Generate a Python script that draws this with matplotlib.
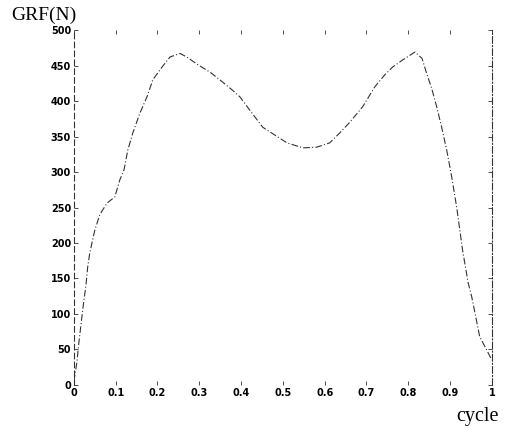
import numpy as np
import matplotlib.pyplot as plt

# values
cycle = [0.0, 0.007, 0.012, 0.022, 0.029, 0.033, 0.038, 0.05, 0.062, 0.079, 0.098,
         0.11, 0.12, 0.129, 0.141, 0.158, 0.175, 0.189, 0.211, 0.23, 0.254, 0.27,
         0.297, 0.325, 0.349, 0.38, 0.397, 0.421, 0.452, 0.481, 0.51, 0.548, 0.581,
         0.612, 0.636, 0.66, 0.691, 0.72, 0.744, 0.763, 0.787, 0.816, 0.833, 0.844,
         0.856, 0.868, 0.88, 0.892, 0.904, 0.916, 0.93, 0.943, 0.952, 0.971, 0.988, 1.0]
grf = [5, 31, 60, 110, 141, 166, 186, 218, 240, 256, 265,
       289, 303, 331, 355, 383, 406, 430, 448, 462, 467, 462,
       451, 441, 430, 415, 406, 387, 363, 352, 341, 334, 335,
       341, 355, 370, 392, 420, 437, 448, 458, 469, 460, 439,
       418, 392, 363, 331, 293, 250, 190, 145, 124, 68, 49, 35]

xticks = [0, 0.1, 0.2, 0.3, 0.4, 0.5, 0.6, 0.7, 0.8, 0.9, 1]
xlabels = ["0", "0.1", "0.2", "0.3", "0.4", "0.5", "0.6", "0.7", "0.8", "0.9", "1"]
yticks = [0, 50, 100, 150, 200, 250, 300, 350, 400, 450, 500]

fig = plt.figure(figsize=(5.06, 4.29), dpi=100)
ax = fig.add_axes([0.146, 0.1026, 0.826, 0.8274])

ax.plot(cycle, grf, color="0.2", lw=0.8, linestyle=(0, (6, 2, 1, 2)))

ax.set_xlim(0, 1)
ax.set_ylim(0, 500)
ax.set_xticks(xticks)
ax.set_xticklabels(xlabels)
ax.set_yticks(yticks)
ax.tick_params(direction="in", length=3, width=0.7, color="0.3",
               top=True, right=True, labelsize=7, pad=2)
for lab in ax.get_xticklabels() + ax.get_yticklabels():
    lab.set_fontweight("bold")

ax.spines["top"].set_visible(False)
ax.spines["bottom"].set_visible(False)
ax.spines["left"].set_linestyle((0, (5, 3)))
ax.spines["right"].set_linestyle((0, (6, 2, 1, 2)))
for s in ("left", "right"):
    ax.spines[s].set_color("0.2")
    ax.spines[s].set_linewidth(0.8)

fig.text(11 / 506, 1 - 20 / 429, "GRF(N)", family="Liberation Serif", fontsize=14)
fig.text(456 / 506, 1 - 421 / 429, "cycle", family="Liberation Serif", fontsize=14.5)

plt.savefig("out.png", dpi=100)
